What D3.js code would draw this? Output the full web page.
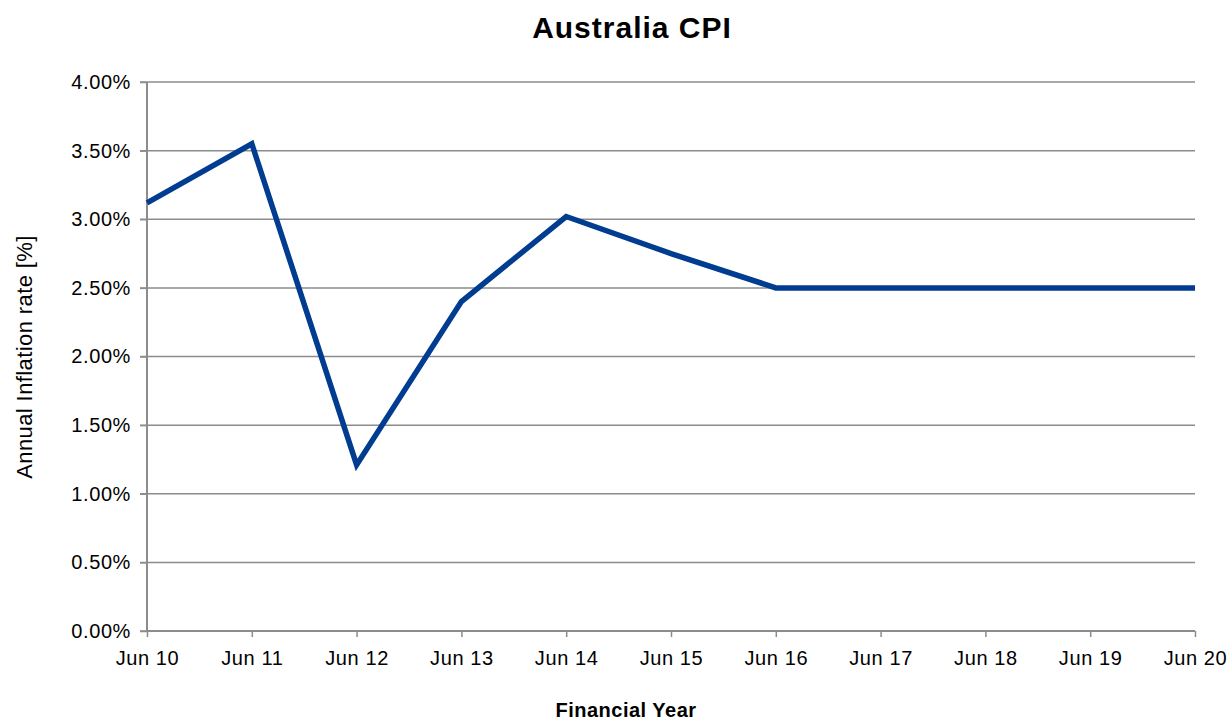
<!doctype html>
<html>
<head>
    <meta charset="UTF-8">
    <title>Australia CPI</title>
    <script src="https://d3js.org/d3.v7.min.js"></script>
    <style>
        body { margin: 0; background: #fff; }
        text { font-family: "Liberation Sans", Arial, sans-serif; fill: #000; }
    </style>
</head>
<body>
    <svg class="cpi" width="1229" height="720"></svg>
    <script>
        // data
        var years = ["Jun 10", "Jun 11", "Jun 12", "Jun 13", "Jun 14", "Jun 15", "Jun 16", "Jun 17", "Jun 18", "Jun 19", "Jun 20"];
        var inflation = [3.12, 3.55, 1.21, 2.40, 3.02, 2.75, 2.50, 2.50, 2.50, 2.50, 2.50];
        var yTicks = [0, 0.5, 1, 1.5, 2, 2.5, 3, 3.5, 4];

        var plotLeft = 147, plotRight = 1195, plotTop = 82, plotBottom = 631;
        var svg = d3.select(".cpi");

        var x = d3.scalePoint().domain(years).range([plotLeft, plotRight]);
        var y = d3.scaleLinear().domain([0, 4]).range([plotBottom, plotTop]);

        // gridlines
        svg.append("g")
            .selectAll("line")
            .data(yTicks)
            .enter().append("line")
            .attr("x1", plotLeft - 7)
            .attr("x2", plotRight)
            .attr("y1", function (d) { return y(d); })
            .attr("y2", function (d) { return y(d); })
            .attr("stroke", "#8c8c8c")
            .attr("stroke-width", 1.5);

        // y axis
        var yAxis = svg.append("g")
            .attr("transform", "translate(" + plotLeft + ",0)")
            .call(d3.axisLeft(y).tickValues(yTicks).tickSize(7).tickPadding(9)
                .tickFormat(function (d) { return d.toFixed(2) + "%"; }));
        yAxis.selectAll("line").attr("stroke", "#8c8c8c").attr("stroke-width", 1.5);
        yAxis.select(".domain").attr("stroke", "#8c8c8c").attr("stroke-width", 2).attr("d", "M0," + plotTop + "V" + plotBottom);
        yAxis.selectAll("text")
            .attr("font-size", 20).attr("letter-spacing", 0.6)
            .style("font-family", "Liberation Sans, Arial, sans-serif").attr("fill", "#000");

        // x axis
        var xAxis = svg.append("g")
            .attr("transform", "translate(0," + plotBottom + ")")
            .call(d3.axisBottom(x).tickSize(6).tickPadding(14));
        xAxis.selectAll("line").attr("stroke", "#8c8c8c").attr("stroke-width", 1.5);
        xAxis.select(".domain").attr("stroke", "#8c8c8c").attr("stroke-width", 2).attr("d", "M" + plotLeft + ",0H" + plotRight);
        xAxis.selectAll("text")
            .attr("font-size", 20).attr("letter-spacing", 0.6)
            .style("font-family", "Liberation Sans, Arial, sans-serif").attr("fill", "#000");

        // line
        var line = d3.line()
            .x(function (d, i) { return x(years[i]); })
            .y(function (d) { return y(d); });
        svg.append("path")
            .datum(inflation)
            .attr("d", line)
            .attr("fill", "none")
            .attr("stroke", "#003c8f")
            .attr("stroke-width", 5.5)
            .attr("stroke-linejoin", "miter");

        // titles
        svg.append("text")
            .attr("x", 632).attr("y", 38)
            .attr("text-anchor", "middle")
            .attr("font-size", 30).attr("font-weight", "bold").attr("letter-spacing", 1)
            .text("Australia CPI");
        svg.append("text")
            .attr("x", 626).attr("y", 717)
            .attr("text-anchor", "middle")
            .attr("font-size", 20).attr("font-weight", "bold").attr("letter-spacing", 0.5)
            .text("Financial Year");
        svg.append("text")
            .attr("transform", "translate(32,357) rotate(-90)")
            .attr("text-anchor", "middle")
            .attr("font-size", 22).attr("letter-spacing", 0.4)
            .text("Annual Inflation rate [%]");
    </script>
</body>
</html>
